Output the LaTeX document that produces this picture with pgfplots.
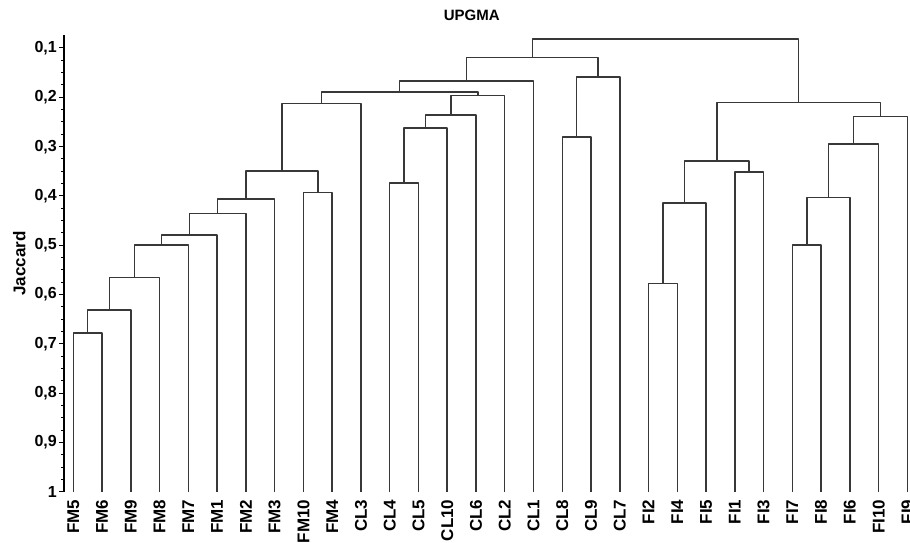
\documentclass[border=0pt]{standalone}
\usepackage{pgfplots}
\pgfplotsset{compat=1.18}
\usepackage{fontspec}
\setmainfont{Liberation Sans}
\begin{document}
\begin{tikzpicture}
\begin{axis}[
  scale only axis,
  width=846pt, height=457pt,
  xmin=-0.323, xmax=29.09,
  ymin=0.0736, ymax=1.0,
  y dir=reverse,
  axis y line*=left,
  axis x line*=bottom,
  x axis line style={draw=none},
  y axis line style={line width=1.4pt, black},
  xtick={0,1,...,29},
  xticklabels={FM5,FM6,FM9,FM8,FM7,FM1,FM2,FM3,FM10,FM4,CL3,CL4,CL5,CL10,CL6,CL2,CL1,CL8,CL9,CL7,FI2,FI4,FI5,FI1,FI3,FI7,FI8,FI6,FI10,FI9},
  xtick style={draw=none},
  xticklabel style={rotate=90, anchor=east, font=\fontsize{17}{17}\selectfont\bfseries, inner sep=2.5pt},
  ytick={0.1,0.2,0.3,0.4,0.5,0.6,0.7,0.8,0.9,1},
  minor y tick num=3,
  tick align=outside,
  major tick length=5pt,
  minor tick length=3pt,
  ytick style={line width=1pt, black},
  /pgf/number format/assume math mode=true,
  /pgf/number format/use comma,
  yticklabel style={font=\fontsize{16}{16}\selectfont\bfseries, inner sep=2pt},
  ylabel={Jaccard},
  ylabel style={font=\fontsize{17}{17}\selectfont\bfseries, at={(axis description cs:-0.053,0.5)}, anchor=center},
  title={UPGMA},
  title style={font=\fontsize{15}{15}\selectfont\bfseries, at={(axis description cs:0.482,1.03)}, anchor=center},
  clip=false,
  br/.style={line width=1.5pt, color=black!78, solid, mark=none, line join=round},
]
% FM cluster
\addplot[br] coordinates {(0,1) (0,0.678) (1,0.678) (1,1)};
\addplot[br] coordinates {(0.5,0.678) (0.5,0.631) (2,0.631) (2,1)};
\addplot[br] coordinates {(1.25,0.631) (1.25,0.565) (3,0.565) (3,1)};
\addplot[br] coordinates {(2.125,0.565) (2.125,0.499) (4,0.499) (4,1)};
\addplot[br] coordinates {(3.0625,0.499) (3.0625,0.479) (5,0.479) (5,1)};
\addplot[br] coordinates {(4.031,0.479) (4.031,0.435) (6,0.435) (6,1)};
\addplot[br] coordinates {(5.016,0.435) (5.016,0.406) (7,0.406) (7,1)};
\addplot[br] coordinates {(8,1) (8,0.393) (9,0.393) (9,1)};
\addplot[br] coordinates {(6.008,0.406) (6.008,0.349) (8.5,0.349) (8.5,0.393)};
\addplot[br] coordinates {(7.254,0.349) (7.254,0.213) (10,0.213) (10,1)};
% CL cluster
\addplot[br] coordinates {(11,1) (11,0.374) (12,0.374) (12,1)};
\addplot[br] coordinates {(11.5,0.374) (11.5,0.262) (13,0.262) (13,1)};
\addplot[br] coordinates {(12.25,0.262) (12.25,0.236) (14,0.236) (14,1)};
\addplot[br] coordinates {(13.125,0.236) (13.125,0.196) (15,0.196) (15,1)};
\addplot[br] coordinates {(8.627,0.213) (8.627,0.189) (14.0625,0.189) (14.0625,0.196)};
\addplot[br] coordinates {(11.345,0.189) (11.345,0.167) (16,0.167) (16,1)};
\addplot[br] coordinates {(17,1) (17,0.280) (18,0.280) (18,1)};
\addplot[br] coordinates {(17.5,0.280) (17.5,0.159) (19,0.159) (19,1)};
\addplot[br] coordinates {(13.67,0.167) (13.67,0.119) (18.25,0.119) (18.25,0.159)};
% FI cluster
\addplot[br] coordinates {(20,1) (20,0.577) (21,0.577) (21,1)};
\addplot[br] coordinates {(20.5,0.577) (20.5,0.414) (22,0.414) (22,1)};
\addplot[br] coordinates {(23,1) (23,0.351) (24,0.351) (24,1)};
\addplot[br] coordinates {(21.25,0.414) (21.25,0.329) (23.5,0.329) (23.5,0.351)};
\addplot[br] coordinates {(25,1) (25,0.499) (26,0.499) (26,1)};
\addplot[br] coordinates {(25.5,0.499) (25.5,0.403) (27,0.403) (27,1)};
\addplot[br] coordinates {(26.25,0.403) (26.25,0.295) (28,0.295) (28,1)};
\addplot[br] coordinates {(27.125,0.295) (27.125,0.239) (29,0.239) (29,1)};
\addplot[br] coordinates {(22.375,0.329) (22.375,0.210) (28.06,0.210) (28.06,0.239)};
% root
\addplot[br] coordinates {(15.96,0.119) (15.96,0.082) (25.22,0.082) (25.22,0.210)};
\coordinate (bl) at (axis cs:-2.549,1.1034);
\coordinate (tr) at (axis cs:29.09,0.0027);
\end{axis}
\pgfresetboundingbox
\useasboundingbox (bl) rectangle (tr);
\end{tikzpicture}
\end{document}
